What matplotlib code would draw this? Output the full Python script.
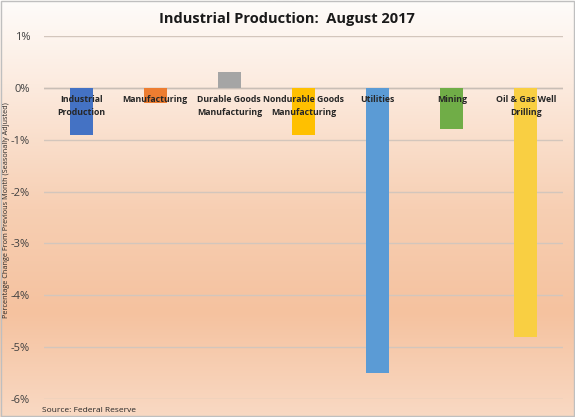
import matplotlib
matplotlib.use("Agg")
import matplotlib.pyplot as plt
import numpy as np
from matplotlib.colors import LinearSegmentedColormap
from matplotlib.patches import Rectangle

categories = ["Industrial\nProduction", "Manufacturing", "Durable Goods\nManufacturing",
              "Nondurable Goods\nManufacturing", "Utilities", "Mining", "Oil & Gas Well\nDrilling"]
values = [-0.9, -0.3, 0.3, -0.9, -5.5, -0.8, -4.8]
colors = ["#4472C4", "#ED7D31", "#A5A5A5", "#FFC000", "#5B9BD5", "#70AD47", "#F9CF42"]
yticks = [1, 0, -1, -2, -3, -4, -5, -6]
ytick_labels = ["1%", "0%", "-1%", "-2%", "-3%", "-4%", "-5%", "-6%"]

plt.rcParams['font.family'] = ['Open Sans', 'DejaVu Sans']

fig = plt.figure(figsize=(5.75, 4.17), dpi=100)

# background gradient
bg = fig.add_axes([0, 0, 1, 1], zorder=-10)
cmap = LinearSegmentedColormap.from_list("bg", [
    (0.0, "#F9D9C3"), (0.25, "#F5C29F"), (0.5, "#F7CFB3"), (0.8, "#FCEBDF"), (1.0, "#FEFCFA")])
grad = np.linspace(0, 1, 256).reshape(-1, 1)
bg.imshow(grad, aspect='auto', cmap=cmap, origin='lower', extent=[0, 1, 0, 1])
bg.set_axis_off()
bg.add_patch(Rectangle((0.001, 0.002), 0.997, 0.995, fill=False, edgecolor="#BFBFBF", lw=1,
                       transform=bg.transAxes))

ax = fig.add_axes([44/575, 1 - 399/417, 519/575, 363/417])
ax.set_facecolor("none")
x = np.arange(len(categories))
ax.bar(x, values, width=0.31, color=colors, zorder=3)
ax.set_xlim(-0.5, len(categories) - 0.5)
ax.set_ylim(-6, 1)
ax.set_yticks(yticks)
ax.set_yticklabels(ytick_labels, fontsize=8, color="#404040")
ax.yaxis.grid(True, color="#D3C6BC", lw=1, zorder=0)
ax.set_xticks([])
ax.tick_params(axis='y', length=0, pad=10)
for s in ax.spines.values():
    s.set_visible(False)
ax.axhline(0, color="#C8BEB6", lw=1, zorder=2)

for xi, lab in zip(x, categories):
    ax.text(xi, -0.14, lab, ha='center', va='top', fontsize=6.3, fontweight='bold',
            color="#262626", zorder=5, linespacing=1.5)

fig.text(7/575, 1 - 210/417, "Percentage Change From Previous Month (Seasonally Adjusted)",
         rotation=90, ha='center', va='center', fontsize=5.2, color="#262626")

fig.text(287/575, 1 - 19/417, "Industrial Production:  August 2017", ha='center', va='center',
         fontsize=10.5, fontweight='bold', color="#1A1A1A")
fig.text(42/575, 1 - 411/417, "Source: Federal Reserve", ha='left', va='center',
         fontsize=6, color="#262626")

fig.savefig("out.png", dpi=100)
